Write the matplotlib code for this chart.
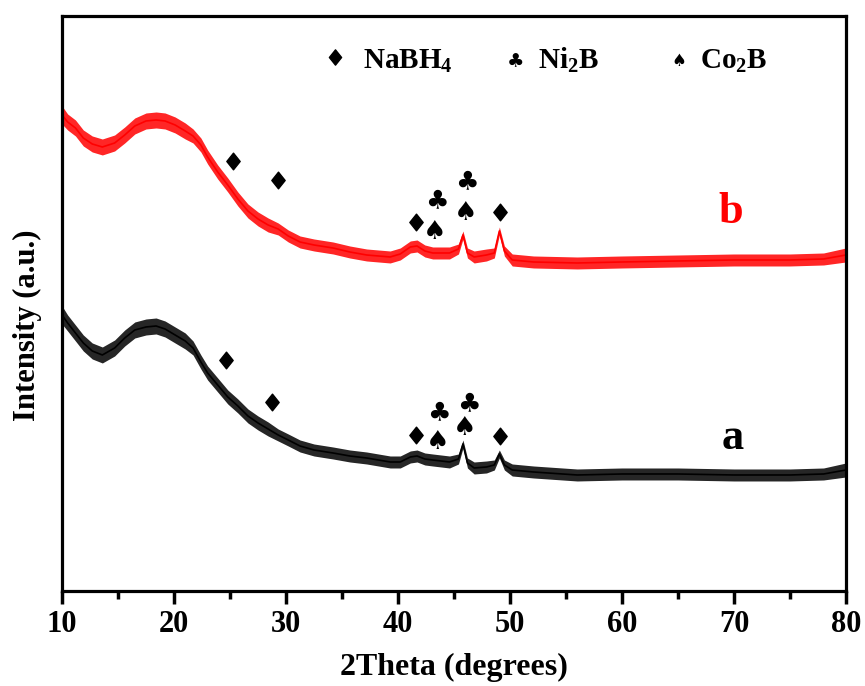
import matplotlib
matplotlib.use("Agg")
import matplotlib.pyplot as plt
from matplotlib.path import Path
import numpy as np

plt.rcParams['font.family'] = ['Liberation Serif', 'DejaVu Sans']
plt.rcParams['font.weight'] = 'bold'
plt.rcParams['mathtext.fontset'] = 'custom'
plt.rcParams['mathtext.bf'] = 'Liberation Serif:bold'
plt.rcParams['mathtext.rm'] = 'Liberation Serif:bold'

# 2theta positions (degrees)
two_theta = [10, 10.5, 11.2, 11.9, 12.7, 13.6, 14.7, 15.6, 16.5, 17.5, 18.4, 19.2,
             20.1, 21.0, 21.7, 22.4, 23.0, 23.9, 24.8, 25.7, 26.6, 27.5, 28.4,
             29.3, 30.2, 31.25, 32.5, 34.2, 35.7, 37.2, 39.3, 40.2, 41.1, 41.7,
             42.4, 43.1, 44.6, 45.4, 45.8, 46.2, 46.8, 47.9, 48.6, 49.05, 49.5,
             50.2, 52.1, 56, 60, 65, 70, 75, 78, 80]

# sample b (red), arbitrary intensity units
intensity_b = [476, 469, 463, 453, 447, 444, 448, 456, 465, 470, 471, 470,
               466, 460, 455, 446, 434, 419, 406, 392, 380, 372, 366,
               362, 355, 349, 346, 343, 339, 336, 334, 337, 344, 345,
               340, 338, 338, 342, 356, 338, 334, 336, 338, 360, 340,
               331, 329, 328, 329, 330, 331, 331, 332, 336]

# sample a (black), arbitrary intensity units
intensity_a = [276, 268, 258, 248, 240, 236, 243, 253, 261, 264, 265, 262,
               256, 250, 243, 229, 218, 206, 194, 185, 175, 168, 162,
               156, 151, 145, 141, 138, 135, 133, 129, 129, 134, 135,
               132, 131, 129, 132, 147, 128, 123, 124, 126, 137, 126,
               121, 119, 116, 117, 117, 116, 116, 117, 121]

# half-height of the noise band of the traces
noise_halfwidth = [9, 8, 8, 8, 8, 8, 8, 8, 8, 8, 8, 8,
                   8, 8, 7, 7, 7, 7, 7, 7, 7, 7, 7,
                   6, 6, 6, 6, 6, 6, 6, 6, 6, 6, 6,
                   6, 6, 6, 5, 4, 5, 6, 6, 5, 4, 5,
                   6, 6, 6, 6, 6, 6, 6, 6, 7]

# phase markers (2theta, height) for each trace
diamond_b = [(25.27, 430), (29.29, 411), (41.61, 369), (49.11, 379)]
club_b = [(43.48, 390), (46.16, 409)]
spade_b = [(43.30, 359), (46.07, 378)]
diamond_a = [(24.64, 231), (28.75, 189), (41.61, 156), (49.11, 155)]
club_a = [(43.66, 178), (46.34, 187)]
spade_a = [(43.57, 149), (45.98, 163)]

x_ticks = [10, 20, 30, 40, 50, 60, 70, 80]
x_minor = [15, 25, 35, 45, 55, 65, 75]

fig = plt.figure(figsize=(8.65, 6.86), dpi=100)
ax = fig.add_axes([0.0717, 0.1385, 0.9063, 0.8382])

tt = np.array(two_theta)
hw = np.array(noise_halfwidth)
for vals, col in [(intensity_b, '#ff0000'), (intensity_a, '#000000')]:
    v = np.array(vals)
    ax.fill_between(tt, v - hw, v + hw, color=col, linewidth=0, alpha=0.85)
    ax.plot(tt, v, color=col, linewidth=1.2)

diamond_marker = Path([(0, 1), (0.8, 0), (0, -1), (-0.8, 0), (0, 1)],
                      [Path.MOVETO, Path.LINETO, Path.LINETO, Path.LINETO, Path.CLOSEPOLY])

for pts in (diamond_b, diamond_a):
    ax.plot([p[0] for p in pts], [p[1] for p in pts], linestyle='none',
            marker=diamond_marker, markersize=12, color='black')

sym_kw = dict(ha='center', va='center', color='black',
              family=['DejaVu Sans'], fontweight='normal')
for pts, ch, fs in [(club_b, '\u2663', 19), (spade_b, '\u2660', 19),
                    (club_a, '\u2663', 19), (spade_a, '\u2660', 19)]:
    for x, y in pts:
        ax.text(x, y, ch, fontsize=fs, **sym_kw)

# legend-like header
ax.plot([0.348], [0.929], transform=ax.transAxes, linestyle='none',
        marker=diamond_marker, markersize=11, color='black')
ax.text(0.384, 0.9096, r'NaBH$_\mathbf{4}$', transform=ax.transAxes, fontsize=21,
        ha='left', va='baseline', fontweight='bold')
ax.text(0.578, 0.921, '\u2663', transform=ax.transAxes, fontsize=14, **sym_kw)
ax.text(0.607, 0.9096, r'Ni$_\mathbf{2}$B', transform=ax.transAxes, fontsize=21,
        ha='left', va='baseline', fontweight='bold')
ax.text(0.787, 0.922, '\u2660', transform=ax.transAxes, fontsize=12, **sym_kw)
ax.text(0.814, 0.9096, r'Co$_\mathbf{2}$B', transform=ax.transAxes, fontsize=21,
        ha='left', va='baseline', fontweight='bold')

ax.text(69.7, 379, 'b', color='#ff0000', fontsize=32, fontweight='bold', ha='center', va='center')
ax.text(69.9, 153, 'a', color='black', fontsize=32, fontweight='bold', ha='center', va='center')

ax.set_xlim(10, 80)
ax.set_ylim(0, 575)
ax.set_xticks(x_ticks)
ax.set_xticks(x_minor, minor=True)
ax.set_yticks([])
ax.tick_params(axis='x', which='major', direction='out', length=9, width=2.5,
               labelsize=22, pad=5)
ax.tick_params(axis='x', which='minor', direction='out', length=6, width=2.5)
for lab in ax.get_xticklabels():
    lab.set_fontweight('bold')
for s in ax.spines.values():
    s.set_linewidth(2.3)

ax.set_xlabel('2Theta (degrees)', fontsize=23, fontweight='bold')
ax.xaxis.set_label_coords(0.5, -0.108)
ax.set_ylabel('Intensity (a.u.)', fontsize=22, fontweight='bold')
ax.yaxis.set_label_coords(-0.026, 0.463)

fig.savefig('out.png', dpi=100)
